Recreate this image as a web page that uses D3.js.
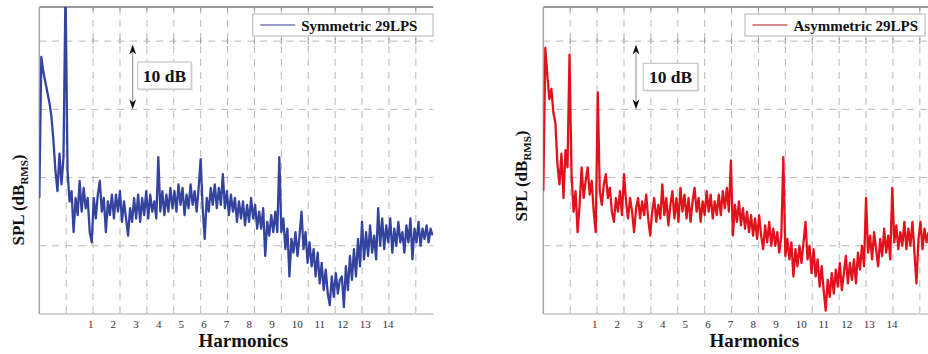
<!DOCTYPE html>
<html>
<head>
<meta charset="utf-8">
<script src="https://cdn.jsdelivr.net/npm/d3@7"></script>
<style>
  body { margin: 0; background: #fff; }
  svg { display: block; }
</style>
</head>
<body>
<svg id="chart" width="928" height="354"></svg>
<script>
// SPL traces in dB, sampled every 0.075 grid units from the left axis
const symmetricSpl = [
  57, 77.7, 75.5, 74, 72.5, 71, 69, 65.5, 61, 58,
  63.5, 59, 63, 88, 61, 56.5, 58, 52, 57, 54.5,
  59.5, 55, 58.5, 55.5, 57, 52, 50.5, 57, 54, 57.5,
  59.5, 55, 57, 52, 56.5, 54.5, 57.5, 54, 57.5, 55,
  58, 53.5, 56.5, 54, 51.5, 55.5, 53.5, 57, 54, 57.5,
  53.5, 57, 54.5, 58, 54, 57.5, 55, 56.5, 54, 63,
  55, 58, 54.5, 57.5, 55, 58.5, 55.5, 58, 55, 59,
  56, 58.5, 54.5, 57.5, 55.5, 59, 56, 58, 55, 58.5,
  62.7, 55.5, 51, 57, 55, 58.5, 56, 59, 55.5, 58.5,
  56, 60.5, 55.5, 58, 54.5, 57.5, 55, 57, 53.5, 56.5,
  54, 56.5, 53, 56, 53.5, 57, 54, 56, 52.5, 55,
  52.5, 55.5, 48.5, 53.5, 51.5, 54.5, 52, 55, 52, 63,
  52, 54, 49.5, 52.5, 45.5, 51, 49, 52, 48.5, 51.5,
  55, 49.5, 52, 47.5, 50.5, 47, 49.5, 45.5, 49, 44.5,
  47.5, 43.5, 46.5, 43, 41.3, 45.5, 42.5, 46, 43, 45,
  45.5, 41, 47, 43.5, 48.5, 45, 49.5, 45.5, 51, 47,
  53.5, 48, 52, 48.5, 53, 49, 51.5, 48, 55.5, 50,
  54, 49.5, 53, 50.5, 54, 49, 52.5, 50, 53.5, 50.5,
  52, 49, 53, 50.5, 54, 48, 52.5, 50.5, 53.5, 50,
  52.5, 51, 53, 50.5, 52.5, 51.5
];

const asymmetricSpl = [
  58, 79, 75, 71.5, 73, 69.5, 68, 62, 59, 63.5,
  57, 64, 61.5, 78, 60.5, 55, 58, 52, 56, 61.5,
  57, 59.5, 61.5, 57.5, 59.5, 55, 52, 72.5, 58, 56,
  59, 60.5, 57, 58.5, 55, 53.5, 57, 55, 58, 54.5,
  60.5, 56.5, 54, 57, 55, 52, 55.5, 57, 54, 56.5,
  54.5, 57.5, 54, 51.5, 55, 57, 53.5, 56, 54, 59,
  54.5, 57, 53, 56, 58, 54, 57, 53.5, 58.5, 55,
  57.5, 54, 57, 53.5, 56.5, 58.5, 55, 57, 53.5, 56.5,
  54.5, 58, 55, 57.5, 54, 56.5, 54.5, 57.5, 54.5, 58,
  55.5, 58.5, 55, 62.5, 51.5, 56, 53.5, 56.5, 53, 55.5,
  52.5, 55, 52, 54.5, 51.5, 54, 51, 54.5, 51.5, 49.5,
  53, 50.5, 53.5, 50, 52.5, 50, 52, 49, 51.5, 63,
  48.5, 51, 48, 50.5, 45.5, 49.5, 47, 50, 47.5, 50.5,
  53.5, 48, 50, 46, 49.5, 45.5, 48, 44, 47, 43.5,
  40.5, 45, 42.5, 46, 43, 46.5, 44, 47.5, 43.5, 46,
  48.5, 44.5, 47.5, 45, 48, 44.5, 49, 46.5, 50, 47,
  57, 49, 51.5, 48, 52, 49.5, 47, 51, 48.5, 52.5,
  49, 51.5, 48, 58.5, 50.5, 53, 49.5, 52, 50, 53.5,
  49.5, 52.5, 50, 53.5, 49, 44.5, 51, 53.5, 49.5, 52.5,
  50.5, 52
];

const harmonicLabels = [1, 2, 3, 4, 5, 6, 7, 8, 9, 10, 11, 12, 13, 14];
const gridDb = [50, 60, 70, 80];
const gridUnits = [1, 2, 3, 4, 5, 6, 7, 8, 9, 10, 11, 12, 13, 14];
const sampleStep = 0.075;

const svg = d3.select("#chart");
const defs = svg.append("defs");

const plotWidth = 394;
const plotTop = 7;
const plotBottom = 314;
const xMax = 14.65;
const gridColor = "#b8b8b8";
const axisColor = "#a6a6a6";
const serif = "'Liberation Serif', 'DejaVu Serif', serif";

const panels = [
  {
    left: 39.3, values: symmetricSpl, color: "#34449e", legendColor: "#9a9ccb",
    legendText: "Symmetric 29LPS", legendBox: [252.7, 433],
    yLabel: [24, 200], arrowX: 132.7, dbBox: [137.7, 62, 53.5]
  },
  {
    left: 543.3, values: asymmetricSpl, color: "#e1121c", legendColor: "#d48c8c",
    legendText: "Asymmetric 29LPS", legendBox: [745, 925],
    yLabel: [527, 176], arrowX: 636, dbBox: [643.3, 63.3, 54.5]
  }
];

panels.forEach((p, pi) => {
  const x = d3.scaleLinear().domain([0, xMax]).range([p.left, p.left + plotWidth]);
  const y = d3.scaleLinear().domain([40, 85]).range([plotBottom, plotTop]);
  const g = svg.append("g");

  defs.append("clipPath").attr("id", "clip" + pi)
    .append("rect")
    .attr("x", x(0)).attr("y", plotTop)
    .attr("width", plotWidth).attr("height", plotBottom - plotTop);

  // dashed grid
  gridDb.forEach(v => {
    g.append("line")
      .attr("x1", x(0)).attr("x2", x(xMax))
      .attr("y1", y(v)).attr("y2", y(v))
      .attr("stroke", gridColor).attr("stroke-width", 1)
      .attr("stroke-dasharray", "7,6");
  });
  gridUnits.forEach(u => {
    g.append("line")
      .attr("x1", x(u)).attr("x2", x(u))
      .attr("y1", plotTop).attr("y2", plotBottom)
      .attr("stroke", gridColor).attr("stroke-width", 1)
      .attr("stroke-dasharray", "7,6");
    // small crosses on the 80 dB line and ticks under the top border
    g.append("line")
      .attr("x1", x(u)).attr("x2", x(u))
      .attr("y1", y(80) - 3).attr("y2", y(80) + 3)
      .attr("stroke", "#999");
    g.append("line")
      .attr("x1", x(u)).attr("x2", x(u))
      .attr("y1", plotTop).attr("y2", plotTop + 4)
      .attr("stroke", "#999");
  });

  // frame: top border, left and bottom axes
  g.append("line")
    .attr("x1", x(0)).attr("x2", x(xMax))
    .attr("y1", plotTop).attr("y2", plotTop)
    .attr("stroke", "#9a9a9a").attr("stroke-width", 2);
  g.append("line")
    .attr("x1", x(0)).attr("x2", x(0))
    .attr("y1", plotTop).attr("y2", plotBottom)
    .attr("stroke", axisColor).attr("stroke-width", 1.5);
  g.append("line")
    .attr("x1", x(0)).attr("x2", x(xMax))
    .attr("y1", plotBottom).attr("y2", plotBottom)
    .attr("stroke", axisColor).attr("stroke-width", 1.2);

  // trace
  const line = d3.line()
    .x((d, i) => x(i * sampleStep))
    .y(d => y(d));
  g.append("path")
    .datum(p.values)
    .attr("clip-path", `url(#clip${pi})`)
    .attr("fill", "none")
    .attr("stroke", p.color)
    .attr("stroke-width", 2.3)
    .attr("stroke-linejoin", "round")
    .attr("d", line);

  // harmonic labels
  const h = d3.scaleLinear().domain([1, 14]).range([p.left + 48.6, p.left + 343.2]);
  harmonicLabels.forEach(k => {
    g.append("text")
      .attr("x", h(k)).attr("y", 328)
      .attr("font-family", serif).attr("font-size", "11px")
      .attr("fill", "#333")
      .text(k);
  });

  g.append("text")
    .attr("x", p.left + (pi === 0 ? 204 : 211)).attr("y", 347)
    .attr("text-anchor", "middle")
    .attr("font-family", serif).attr("font-size", "19px").attr("font-weight", "bold")
    .attr("fill", "#111")
    .text("Harmonics");

  // y label with subscript
  const yl = g.append("text")
    .attr("transform", `translate(${p.yLabel[0]},${p.yLabel[1]}) rotate(-90)`)
    .attr("text-anchor", "middle")
    .attr("font-family", serif).attr("font-size", "17px").attr("font-weight", "bold")
    .attr("fill", "#111");
  yl.append("tspan").text("SPL (dB");
  yl.append("tspan").attr("font-size", "11px").attr("dy", 4).text("RMS");
  yl.append("tspan").attr("dy", -4).text(")");

  // legend
  const [lx0, lx1] = p.legendBox;
  g.append("rect")
    .attr("x", lx0).attr("y", 14)
    .attr("width", lx1 - lx0).attr("height", 22)
    .attr("fill", "#fff").attr("stroke", "#b4b4b4").attr("stroke-width", 1);
  g.append("line")
    .attr("x1", lx0 + 7.5).attr("x2", lx0 + 42.5)
    .attr("y1", 25).attr("y2", 25)
    .attr("stroke", p.legendColor).attr("stroke-width", 2);
  g.append("text")
    .attr("x", lx0 + 48.5).attr("y", 30.5)
    .attr("font-family", serif).attr("font-size", "15px").attr("font-weight", "bold")
    .attr("fill", "#111")
    .text(p.legendText);

  // 10 dB scale annotation
  const ax = p.arrowX;
  const aTop = y(79.5), aBot = y(70);
  g.append("line")
    .attr("x1", ax).attr("x2", ax)
    .attr("y1", aTop + 4).attr("y2", aBot - 4)
    .attr("stroke", "#8c8c8c").attr("stroke-width", 1);
  g.append("path")
    .attr("d", `M${ax},${aTop} L${ax - 3.5},${aTop + 10} L${ax},${aTop + 7} L${ax + 3.5},${aTop + 10} Z`)
    .attr("fill", "#111");
  g.append("path")
    .attr("d", `M${ax},${aBot} L${ax - 3.5},${aBot - 10} L${ax},${aBot - 7} L${ax + 3.5},${aBot - 10} Z`)
    .attr("fill", "#111");

  const [bx, by, bw] = p.dbBox;
  g.append("rect")
    .attr("x", bx + 1.5).attr("y", by + 1.5)
    .attr("width", bw).attr("height", 27)
    .attr("fill", "#e4e4e4");
  g.append("rect")
    .attr("x", bx).attr("y", by)
    .attr("width", bw).attr("height", 27)
    .attr("fill", "#fff").attr("stroke", "#bdbdbd").attr("stroke-width", 1);
  g.append("text")
    .attr("x", bx + bw / 2).attr("y", by + 20)
    .attr("text-anchor", "middle")
    .attr("font-family", serif).attr("font-size", "17.5px").attr("font-weight", "bold")
    .attr("fill", "#111")
    .text("10 dB");
});
</script>
</body>
</html>
